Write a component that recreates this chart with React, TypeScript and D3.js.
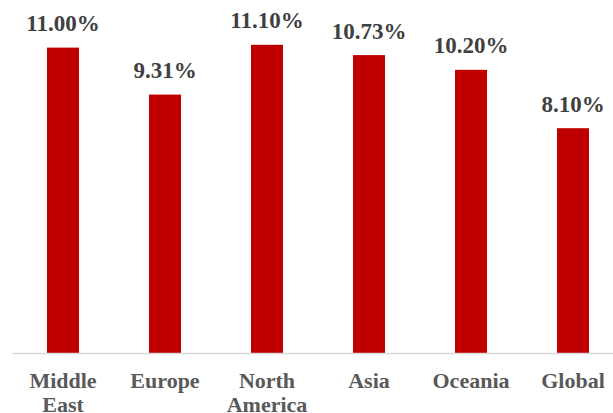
import React from "react";
import * as d3 from "d3";

const categories = ["Middle East", "Europe", "North America", "Asia", "Oceania", "Global"];
const values = [11.0, 9.31, 11.1, 10.73, 10.2, 8.1];
const valueLabels = ["11.00%", "9.31%", "11.10%", "10.73%", "10.20%", "8.10%"];

const W = 613;
const H = 413;

export default function App() {
  const x = d3.scaleBand<string>().domain(categories).range([12, 624]).paddingInner(0.686).paddingOuter(0.343);
  const y = d3.scaleLinear().domain([0, 11]).range([353.3, 47.6]);
  const font = "'Liberation Serif', serif";
  return (
    <svg width={W} height={H} style={{ position: "absolute", left: 0, top: 0 }}>
      <rect width={W} height={H} fill="#ffffff" />
      {categories.map((c, i) => (
        <rect key={c} x={x(c)} y={y(values[i])} width={x.bandwidth()} height={y(0) - y(values[i])} fill="#C00000" />
      ))}
      <line x1={12} x2={613} y1={353.5} y2={353.5} stroke="#d9d9d9" strokeWidth={1.5} />
      {categories.map((c, i) => (
        <text
          key={"v" + c}
          x={(x(c) as number) + x.bandwidth() / 2}
          y={y(values[i]) - 16.5}
          textAnchor="middle"
          fontFamily={font}
          fontWeight="bold"
          fontSize={23}
          fill="#404040"
        >
          {valueLabels[i]}
        </text>
      ))}
      {categories.map((c) => {
        const words = c.split(" ");
        return (
          <text
            key={"c" + c}
            textAnchor="middle"
            fontFamily={font}
            fontWeight="bold"
            fontSize={22}
            fill="#595959"
          >
            {words.map((w, j) => (
              <tspan key={w} x={(x(c) as number) + x.bandwidth() / 2} y={388 + j * 23.5}>
                {w}
              </tspan>
            ))}
          </text>
        );
      })}
    </svg>
  );
}
